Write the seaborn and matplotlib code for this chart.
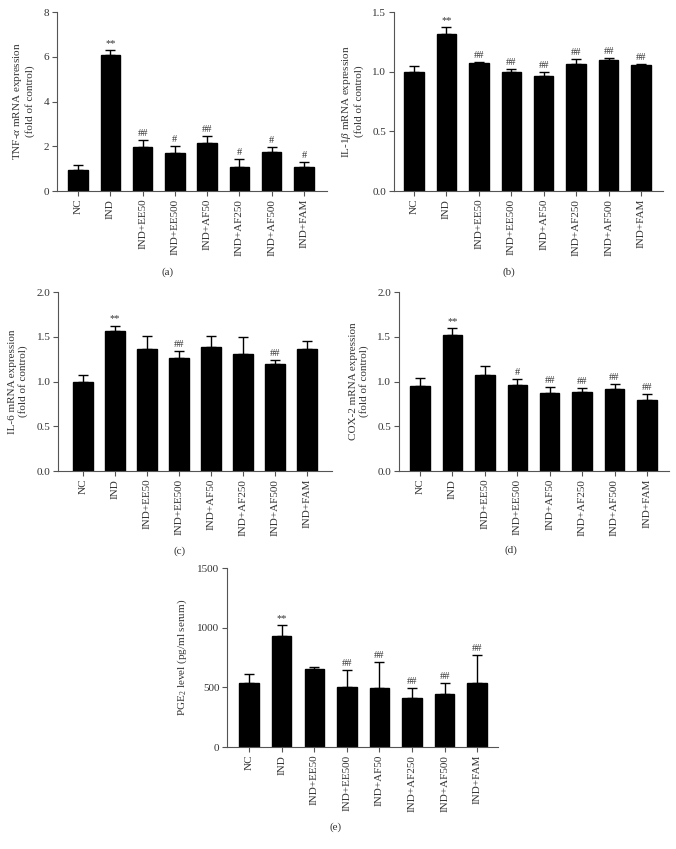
"""Recreate the five-panel bar chart of inflammatory markers."""

import numpy as np
import pandas as pd
import seaborn as sns
import matplotlib
matplotlib.use("Agg")
import matplotlib.pyplot as plt

groups = ["NC", "IND", "IND+EE50", "IND+EE500", "IND+AF50",
          "IND+AF250", "IND+AF500", "IND+FAM"]

# Panel (a): TNF-alpha
tnf_mean = [0.95, 6.07, 1.97, 1.70, 2.14, 1.09, 1.76, 1.06]
tnf_err = [0.20, 0.22, 0.30, 0.30, 0.32, 0.34, 0.19, 0.25]
tnf_marks = ["", "**", "##", "#", "##", "#", "#", "#"]

# Panel (b): IL-1beta
il1_mean = [0.997, 1.313, 1.075, 0.997, 0.964, 1.067, 1.095, 1.059]
il1_err = [0.050, 0.061, 0.009, 0.025, 0.033, 0.039, 0.020, 0.008]
il1_marks = ["", "**", "##", "##", "##", "##", "##", "##"]

# Panel (c): IL-6
il6_mean = [0.99, 1.568, 1.367, 1.263, 1.385, 1.304, 1.192, 1.367]
il6_err = [0.08, 0.056, 0.141, 0.078, 0.120, 0.193, 0.052, 0.085]
il6_marks = ["", "**", "", "##", "", "", "##", ""]

# Panel (d): COX-2
cox_mean = [0.953, 1.516, 1.069, 0.965, 0.872, 0.883, 0.912, 0.797]
cox_err = [0.090, 0.082, 0.100, 0.067, 0.067, 0.048, 0.064, 0.060]
cox_marks = ["", "**", "", "#", "##", "##", "##", "##"]

# Panel (e): PGE2
pge_mean = [539, 930, 654, 503, 497, 408, 447, 539]
pge_err = [70, 92, 14, 142, 218, 86, 92, 235]
pge_marks = ["", "**", "", "##", "##", "##", "##", "##"]

TEXT = "#333333"
AXIS = "#555555"
FS = 8

plt.rcParams["font.family"] = ["Liberation Serif", "DejaVu Serif"]
plt.rcParams["mathtext.fontset"] = "custom"
plt.rcParams["mathtext.rm"] = "Liberation Serif"
plt.rcParams["mathtext.it"] = "Liberation Serif:italic"

fig = plt.figure(figsize=(6.76, 8.49), dpi=100)


def panel(rect, xlim, mean, err, marks, ylim, yticks, fmt, ylabel, letter, letter_xy):
    ax = fig.add_axes(rect)
    df = pd.DataFrame({"group": groups, "value": mean})
    sns.barplot(data=df, x="group", y="value", color="black", width=0.6,
                errorbar=None, ax=ax, saturation=1)
    for p in ax.patches:
        p.set_edgecolor("black")
    x = np.arange(len(groups))
    # one-sided (upward) error bars
    ax.errorbar(x, mean, yerr=[np.zeros(len(err)), err], fmt="none",
                ecolor="black", elinewidth=1.0, capsize=3.5, capthick=1.0)
    span = ylim[1] - ylim[0]
    for xi, m, e, s in zip(x, mean, err, marks):
        if s:
            ax.text(xi, m + e + span * 0.012, s, ha="center", va="bottom",
                    fontsize=7.5, color=TEXT)
    ax.set_xlim(*xlim)
    ax.set_ylim(*ylim)
    ax.set_yticks(yticks)
    ax.set_yticklabels([fmt.format(t) for t in yticks])
    ax.set_xlabel("")
    ax.set_ylabel(ylabel, fontsize=FS, color=TEXT, labelpad=6)
    ax.tick_params(axis="x", rotation=90, labelsize=FS, colors=AXIS,
                   labelcolor=TEXT, length=3.5, width=0.8, pad=2)
    ax.tick_params(axis="y", labelsize=FS, colors=AXIS, labelcolor=TEXT,
                   length=3.5, width=0.8, pad=2)
    for side in ["top", "right"]:
        ax.spines[side].set_visible(False)
    for side in ["left", "bottom"]:
        ax.spines[side].set_color(AXIS)
        ax.spines[side].set_linewidth(0.8)
    ax.set_facecolor("none")
    fig.text(letter_xy[0] / 676, 1 - letter_xy[1] / 849, letter,
             ha="center", va="center", fontsize=FS, color=TEXT)
    return ax


panel([0.0843, 0.7750, 0.3994, 0.2108], (-0.65, 7.71), tnf_mean, tnf_err, tnf_marks,
      (0, 8), [0, 2, 4, 6, 8], "{:.0f}",
      "TNF-$\\mathit{\\alpha}$ mRNA expression\n(fold of control)", "(a)", (168, 272))

panel([0.5828, 0.7750, 0.3980, 0.2108], (-0.62, 7.68), il1_mean, il1_err, il1_marks,
      (0, 1.5), [0, 0.5, 1.0, 1.5], "{:.1f}",
      "IL-1$\\mathit{\\beta}$ mRNA expression\n(fold of control)", "(b)", (509, 272))

panel([0.0858, 0.4452, 0.4053, 0.2108], (-0.78, 7.78), il6_mean, il6_err, il6_marks,
      (0, 2.0), [0, 0.5, 1.0, 1.5, 2.0], "{:.1f}",
      "IL-6 mRNA expression\n(fold of control)", "(c)", (180, 551))

panel([0.5902, 0.4452, 0.3994, 0.2108], (-0.65, 7.68), cox_mean, cox_err, cox_marks,
      (0, 2.0), [0, 0.5, 1.0, 1.5, 2.0], "{:.1f}",
      "COX-2 mRNA expression\n(fold of control)", "(d)", (511, 550))

panel([0.3358, 0.1201, 0.4009, 0.2108], (-0.68, 7.64), pge_mean, pge_err, pge_marks,
      (0, 1500), [0, 500, 1000, 1500], "{:.0f}",
      "PGE$_2$ level (pg/ml serum)", "(e)", (336, 827))

fig.savefig("out.png", dpi=100, facecolor="white")
